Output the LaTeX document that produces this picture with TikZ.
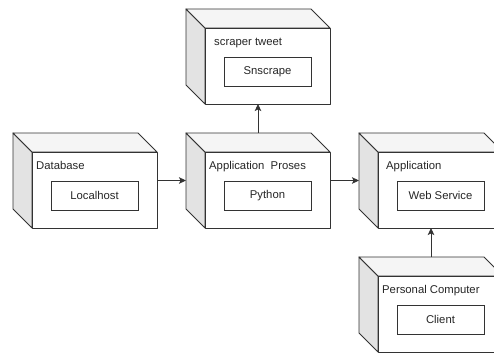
\documentclass[tikz,border=0pt]{standalone}
\usepackage{fontspec}
\setmainfont{Liberation Sans}
\usetikzlibrary{positioning,calc,arrows.meta}

\tikzset{
  umlnode/.style={minimum width=144pt, minimum height=95pt, inner sep=0pt, outer sep=0pt},
  face/.style={draw=black!80, line width=0.9pt, line join=round},
  topface/.style={face, fill=black!4},
  sideface/.style={face, fill=black!11},
  frontface/.style={face, fill=white},
  inbox/.style={draw=black!80, line width=0.9pt, minimum width=87pt, minimum height=29pt,
    anchor=north, inner sep=0pt, text=black!85, font=\fontsize{11.3}{13}\selectfont},
  title/.style={anchor=base west, inner sep=0pt, text=black!85, font=\fontsize{11.3}{13}\selectfont},
  link/.style={draw=black!80, line width=0.9pt, -{Stealth[length=7pt,width=6.5pt,inset=1.5pt]}}
}

\begin{document}
\begin{tikzpicture}
\useasboundingbox (0,0) rectangle (494pt,-353pt);
\clip (0,0) rectangle (494pt,-353pt);

% node boxes
\node[umlnode] (db) at (85pt,-180.5pt) {};
\node[umlnode, right=29pt of db] (proc) {};
\node[umlnode, above=29pt of proc] (scr) {};
\node[umlnode, right=29pt of proc] (app) {};
\node[umlnode, below=29pt of app] (pc) {};

% 3d faces
\foreach \n in {db,scr,proc,app,pc}{
  \coordinate (\n-f) at ([shift={(19pt,-19pt)}]\n.north west);
  \draw[sideface] (\n.north west) -- (\n-f) -- (\n-f |- \n.south) -- ([yshift=19pt]\n.south west) -- cycle;
  \draw[topface] (\n.north west) -- ([xshift=-19pt]\n.north east) -- ([yshift=-19pt]\n.north east) -- (\n-f) -- cycle;
  \draw[frontface] (\n-f) rectangle (\n.south east);
}

% titles and components
\node[title] (dbt) at ([shift={(4pt,-17.5pt)}]db-f) {Database};
\node[inbox] (lh) at ([shift={(62.5pt,-29pt)}]db-f) {Localhost};

\node[title] (scrt) at ([shift={(9pt,-17.5pt)}]scr-f) {scraper tweet};
\node[inbox] (sn) at ([shift={(62.5pt,-29pt)}]scr-f) {Snscrape};

\node[title] (proct) at ([shift={(4pt,-17.5pt)}]proc-f) {Application~ Proses};
\node[inbox] (py) at ([shift={(62.5pt,-29pt)}]proc-f) {Python};

\node[title] (appt) at ([shift={(8pt,-17.5pt)}]app-f) {Application};
\node[inbox] (ws) at ([shift={(62.5pt,-29pt)}]app-f) {Web Service};

\node[title] (pct) at ([shift={(4pt,-17.5pt)}]pc-f) {Personal Computer};
\node[inbox] (cl) at ([shift={(62.5pt,-29pt)}]pc-f) {Client};

% links
\draw[link] (db) -- (proc);
\draw[link] (proc) -- (scr);
\draw[link] (proc) -- (app);
\draw[link] (pc) -- (app);
\end{tikzpicture}
\end{document}
